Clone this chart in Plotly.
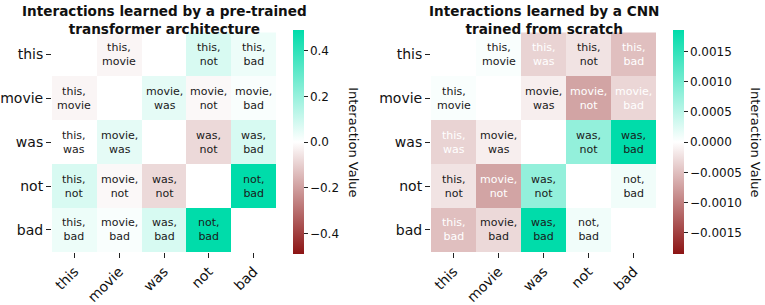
import plotly.graph_objects as go

tokens = ["this", "movie", "was", "not", "bad"]

transformer_values = [
    [None, -0.02, None, 0.075, 0.035],
    [-0.02, None, 0.05, -0.015, 0.012],
    [0.0, 0.05, None, -0.08, 0.077],
    [0.075, -0.015, -0.08, None, 0.49],
    [0.035, 0.012, 0.077, 0.49, None],
]
cnn_values = [
    [None, 0.00004, -0.00035, -0.00022, -0.0005],
    [0.00004, None, -0.00013, -0.00072, -0.00032],
    [-0.00035, -0.00013, None, 0.00078, 0.00185],
    [-0.00022, -0.00072, 0.00078, None, 0.0001],
    [-0.0005, -0.0003, 0.00185, 0.0001, None],
]
# cells whose annotation is drawn in white
cnn_white_text = [
    [0, 0, 1, 0, 1],
    [0, 0, 0, 1, 1],
    [1, 0, 0, 0, 0],
    [0, 1, 0, 0, 0],
    [1, 0, 0, 0, 0],
]
transformer_white_text = [[0] * 5 for _ in range(5)]

left_title = "Interactions learned by a pre-trained<br>transformer architecture"
right_title = "Interactions learned by a CNN<br>trained from scratch"
left_ticks = [-0.4, -0.2, 0.0, 0.2, 0.4]
right_ticks = [-0.0015, -0.001, -0.0005, 0.0, 0.0005, 0.001, 0.0015]
left_lim = 0.49
right_lim = 0.00185

W, H = 765, 305
FONT = "DejaVu Sans"
colorscale = [[0.0, "rgb(140,20,20)"], [0.5, "rgb(255,255,255)"], [1.0, "rgb(0,220,170)"]]

fig = go.Figure()

def px_x(p):
    return p / W

def px_y(p):
    return 1 - p / H

panels = [
    dict(vals=transformer_values, white=transformer_white_text, lim=left_lim, ticks=left_ticks,
         fmt=".1f", x0=52, x1=276, cb=293, cbt=354, title=left_title, xa="x", ya="y"),
    dict(vals=cnn_values, white=cnn_white_text, lim=right_lim, ticks=right_ticks,
         fmt=".4f", x0=431, x1=656, cb=673, cbt=756, title=right_title, xa="x2", ya="y2"),
]

y_top, y_bot = 33, 257
annotations = []
for k, p in enumerate(panels):
    fig.add_trace(go.Heatmap(
        z=p["vals"], x=tokens, y=tokens, xaxis=p["xa"], yaxis=p["ya"],
        colorscale=colorscale, zmin=-p["lim"], zmax=p["lim"], hoverongaps=False,
        colorbar=dict(
            x=px_x(p["cb"]), xanchor="left", xref="paper", xpad=0, ypad=0,
            y=px_y((y_top + y_bot) / 2), yanchor="middle",
            len=y_bot - y_top, lenmode="pixels", thickness=11, thicknessmode="pixels",
            outlinewidth=0, ticks="outside", ticklen=4, tickwidth=1, tickcolor="#222",
            tickvals=p["ticks"], tickformat=p["fmt"],
            tickfont=dict(family=FONT, size=12, color="#111"),
        ),
    ))
    for i, row in enumerate(p["vals"]):
        for j, v in enumerate(row):
            if v is None:
                continue
            a, b = sorted([i, j])
            annotations.append(dict(
                x=tokens[j], y=tokens[i], xref=p["xa"], yref=p["ya"],
                text=f"{tokens[a]},<br>{tokens[b]}", showarrow=False,
                font=dict(family=FONT, size=11, color="white" if p["white"][i][j] else "#1a1a1a"),
            ))
    annotations.append(dict(
        x=px_x((p["x0"] + p["x1"]) / 2), y=1 - 1 / H, xref="paper", yref="paper",
        xanchor="center", yanchor="top", showarrow=False, text=p["title"],
        font=dict(family=FONT, size=13.6, color="#111", weight="bold"),
    ))
    annotations.append(dict(
        x=px_x(p["cbt"]), y=px_y((y_top + y_bot) / 2), xref="paper", yref="paper",
        xanchor="center", yanchor="middle", showarrow=False, textangle=90,
        text="Interaction Value", font=dict(family=FONT, size=13, color="#111"),
    ))

axis_common = dict(showgrid=False, zeroline=False, showline=False, ticks="outside",
                   ticklen=5, tickwidth=1, tickcolor="#222",
                   tickfont=dict(family=FONT, size=14, color="#111"))

fig.update_layout(
    width=W, height=H, margin=dict(l=0, r=0, t=0, b=0),
    paper_bgcolor="white", plot_bgcolor="white",
    xaxis=dict(domain=[px_x(52), px_x(276)], anchor="y", tickangle=-45, **axis_common),
    yaxis=dict(domain=[px_y(y_bot), px_y(y_top)], anchor="x", autorange="reversed", **axis_common),
    xaxis2=dict(domain=[px_x(431), px_x(656)], anchor="y2", tickangle=-45, **axis_common),
    yaxis2=dict(domain=[px_y(y_bot), px_y(y_top)], anchor="x2", autorange="reversed", **axis_common),
    annotations=annotations,
    showlegend=False,
)

fig.write_html("out.html", config={"displayModeBar": False},
               post_script="document.body.style.margin='0';document.body.style.overflow='hidden';")
